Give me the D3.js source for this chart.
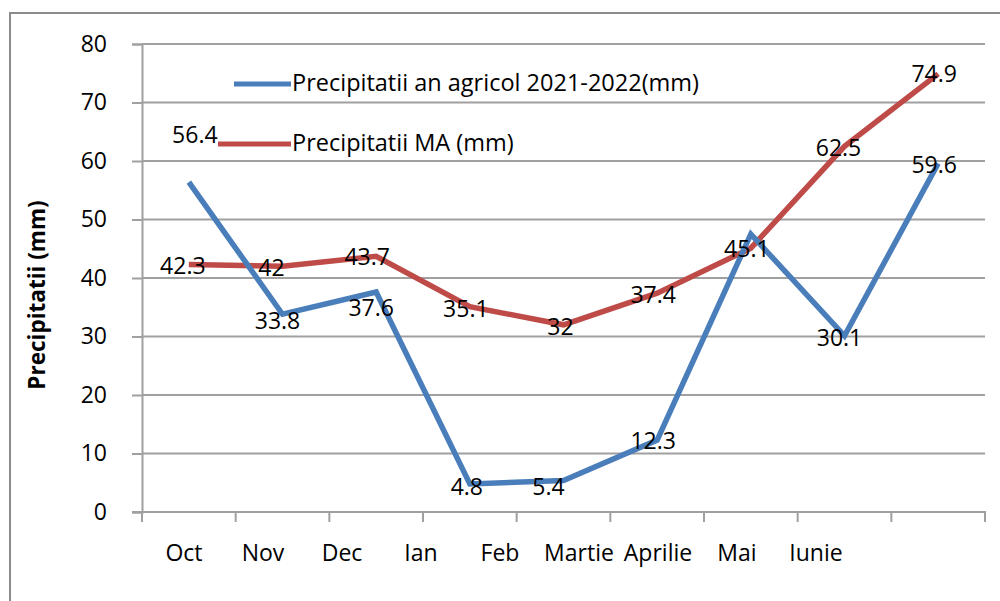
<!DOCTYPE html>
<html>
<head>
<meta charset="utf-8">
<script src="https://cdn.jsdelivr.net/npm/d3@7"></script>
<style>
  html, body { margin: 0; padding: 0; background: #fff; }
  svg { display: block; font-family: "Open Sans", "Noto Sans", sans-serif; }
</style>
</head>
<body>
<svg id="chart" width="1000" height="601"></svg>
<script>
// Monthly precipitation, agricultural year 2021-2022 vs. multi-annual mean
const months = ["Oct", "Nov", "Dec", "Ian", "Feb", "Martie", "Aprilie", "Mai", "Iunie"];
const rainYear = [56.4, 33.8, 37.6, 4.8, 5.4, 12.3, 47.5, 30.1, 59.6];
const rainMean = [42.3, 42, 43.7, 35.1, 32, 37.4, 45.1, 62.5, 74.9];
const yTicks = [0, 10, 20, 30, 40, 50, 60, 70, 80];
const seriesNames = ["Precipitatii an agricol 2021-2022(mm)", "Precipitatii MA (mm)"];
const showYearLabel = [true, true, true, true, true, true, false, true, true];

// label nudges (px) relative to each point
const yearLabelShift = [[6, -47], [-5, 7], [-5, 16], [-3, 3], [-15, 7], [-4, 1], [0, 0], [-5, 2], [-4, 2]];
const meanLabelShift = [[-6, 1], [-11, 2], [-9, 1], [-4, 2], [-3, 2], [-4, 2], [-4, 1], [-6, 2], [-4, 0]];

const colors = { year: "#4a7ebb", mean: "#be4b48", grid: "#a0a0a0", frame: "#8c8c8c" };

const svg = d3.select("#chart");
const plot = { left: 142, right: 985, top: 44, bottom: 512 };

// outer frame
svg.append("rect")
  .attr("x", 10).attr("y", 13)
  .attr("width", 1000).attr("height", 600)
  .attr("fill", "none").attr("stroke", colors.frame).attr("stroke-width", 2);

const x = d3.scaleBand().domain(months).range([plot.left, plot.right]).padding(0);
const y = d3.scaleLinear().domain([0, 80]).range([plot.bottom, plot.top]);
const cx = m => x(m) + x.bandwidth() / 2;

// horizontal gridlines + y axis
const yAxis = d3.axisLeft(y).tickValues(yTicks).tickSize(10).tickPadding(25);
const gy = svg.append("g").attr("transform", `translate(${plot.left},0)`).call(yAxis);
gy.select(".domain").attr("stroke", colors.grid).attr("stroke-width", 2);
gy.selectAll(".tick line").attr("stroke", colors.grid).attr("stroke-width", 2);
gy.selectAll(".tick text").attr("font-size", 23).attr("fill", "#000")
  .attr("font-family", "'Open Sans', sans-serif");
svg.append("g").selectAll("line").data(yTicks.filter(t => t > 0)).join("line")
  .attr("x1", plot.left).attr("x2", plot.right)
  .attr("y1", d => y(d)).attr("y2", d => y(d))
  .attr("stroke", colors.grid).attr("stroke-width", 2);

// x axis: baseline and tick marks at category boundaries
const bounds = months.map(m => x(m)).concat([plot.right]);
svg.append("line")
  .attr("x1", plot.left - 10).attr("x2", plot.right + 1)
  .attr("y1", y(0)).attr("y2", y(0))
  .attr("stroke", colors.grid).attr("stroke-width", 2);
svg.append("g").selectAll("line").data(bounds).join("line")
  .attr("x1", d => d).attr("x2", d => d)
  .attr("y1", y(0)).attr("y2", y(0) + 10)
  .attr("stroke", colors.grid).attr("stroke-width", 2);

// category labels
const labelX = d3.scalePoint().domain(months).range([plot.left + 42, plot.left + 42 + 79 * 8]);
svg.append("g").selectAll("text").data(months).join("text")
  .attr("x", d => labelX(d)).attr("y", 561)
  .attr("text-anchor", "middle").attr("font-size", 23).attr("fill", "#000")
  .text(d => d);

// y axis title
svg.append("text")
  .attr("transform", "translate(45,295) rotate(-90)")
  .attr("text-anchor", "middle").attr("font-size", 22.5).attr("font-weight", "bold")
  .attr("fill", "#000")
  .text("Precipitatii (mm)");

// lines
const line = d3.line().x((d, i) => cx(months[i])).y(d => y(d));
svg.append("path").datum(rainMean).attr("d", line)
  .attr("fill", "none").attr("stroke", colors.mean).attr("stroke-width", 5.5)
  .attr("stroke-linejoin", "miter");
svg.append("path").datum(rainYear).attr("d", line)
  .attr("fill", "none").attr("stroke", colors.year).attr("stroke-width", 5.5)
  .attr("stroke-linejoin", "miter");

// legend
const legend = svg.append("g");
legend.append("line").attr("x1", 234).attr("x2", 291).attr("y1", 84).attr("y2", 84)
  .attr("stroke", colors.year).attr("stroke-width", 5);
legend.append("text").attr("x", 292).attr("y", 91).attr("font-size", 23.5).attr("fill", "#000")
  .text(seriesNames[0]);
legend.append("line").attr("x1", 218).attr("x2", 291).attr("y1", 144).attr("y2", 144)
  .attr("stroke", colors.mean).attr("stroke-width", 5);
legend.append("text").attr("x", 292).attr("y", 151).attr("font-size", 23.5).attr("fill", "#000")
  .text(seriesNames[1]);

// data labels
function addLabels(values, shifts, show) {
  svg.append("g").selectAll("text")
    .data(values.map((v, i) => ({ v, i })).filter(d => show ? show[d.i] : true))
    .join("text")
    .attr("x", d => cx(months[d.i]) + shifts[d.i][0])
    .attr("y", d => y(d.v) + shifts[d.i][1])
    .attr("dy", "0.35em")
    .attr("text-anchor", "middle").attr("font-size", 23).attr("fill", "#000")
    .text(d => d.v);
}
addLabels(rainMean, meanLabelShift);
addLabels(rainYear, yearLabelShift, showYearLabel);
</script>
</body>
</html>
